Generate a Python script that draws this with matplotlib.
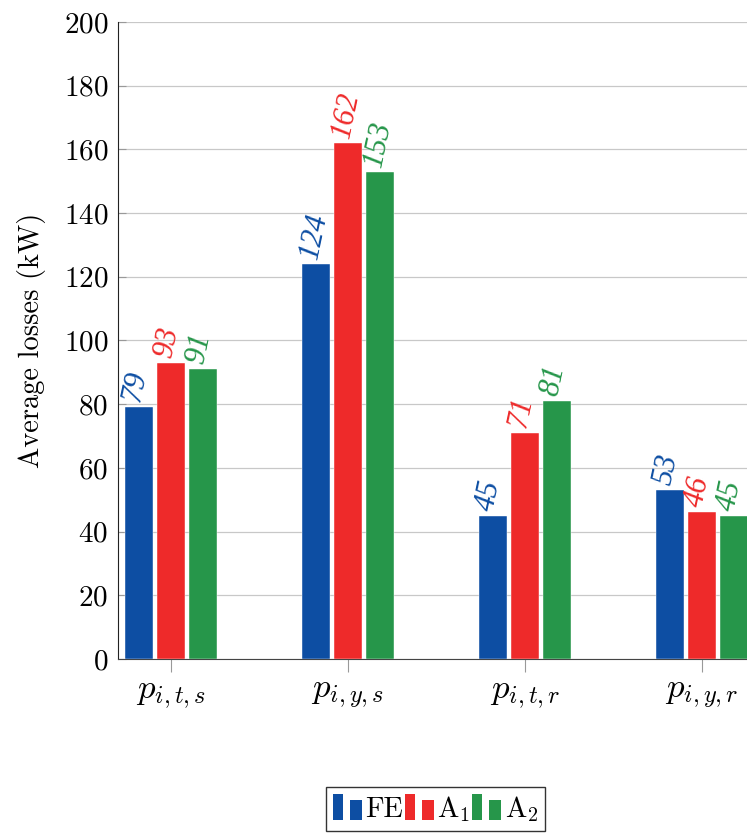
import numpy as np
import matplotlib
matplotlib.use('Agg')
import matplotlib.pyplot as plt
from matplotlib.patches import Rectangle
from matplotlib.legend_handler import HandlerBase

plt.rcParams['font.family'] = 'serif'
plt.rcParams['font.serif'] = ['cmr10']
plt.rcParams['mathtext.fontset'] = 'cm'
plt.rcParams['axes.formatter.use_mathtext'] = True

categories = [r'$p_{i,t,s}$', r'$p_{i,y,s}$', r'$p_{i,t,r}$', r'$p_{i,y,r}$']
series_names = ['FE', r'A$_1$', r'A$_2$']
fe_vals = [79, 124, 45, 53]
a1_vals = [93, 162, 71, 46]
a2_vals = [91, 153, 81, 45]
colors = ['#0d4ea3', '#ee2a2a', '#26964a']


class TwoBarHandler(HandlerBase):
    # pgfplots style ybar legend: two little bars
    def create_artists(self, legend, orig_handle, xdescent, ydescent,
                       width, height, fontsize, trans):
        c = orig_handle.get_facecolor()
        w = width * 0.33
        r1 = Rectangle((-xdescent, -ydescent - 0.15 * height), w, height * 1.3,
                       facecolor=c, edgecolor='none', transform=trans)
        r2 = Rectangle((-xdescent + width * 0.58, -ydescent - 0.15 * height), w * 1.2, height * 1.0,
                       facecolor=c, edgecolor='none', transform=trans)
        return [r1, r2]


fig = plt.figure(figsize=(7.47, 8.33), dpi=100)
ax = fig.add_axes([0.158, 0.2089, 0.8527, 0.7647])

x = np.arange(len(categories))
bw = 0.158
step = 0.181
handles = []
for i, (vals, col) in enumerate(zip([fe_vals, a1_vals, a2_vals], colors)):
    pos = x + (i - 1) * step
    b = ax.bar(pos, vals, width=bw, color=col, edgecolor='white', linewidth=0.3,
               zorder=3, label=series_names[i])
    handles.append(b.patches[0])
    for p, v in zip(pos, vals):
        ax.annotate(str(v), (p, v), xytext=(-5, 4), textcoords='offset points',
                    rotation=78, rotation_mode='anchor', ha='left', va='center',
                    color=col, fontsize=22, family='Liberation Serif',
                    style='italic', annotation_clip=False, zorder=4)

ax.set_xlim(-0.3, 3.3)
ax.set_ylim(0, 200)
ax.set_yticks(np.arange(0, 201, 20))
ax.set_xticks(x)
ax.set_xticklabels(categories, fontsize=25)
ax.tick_params(axis='y', labelsize=21, direction='in', length=6, color='#999999', pad=7)
ax.tick_params(axis='x', direction='out', length=9, color='#999999', pad=6)
ax.grid(axis='y', color='#c8c8c8', linewidth=0.9, zorder=0)
ax.set_axisbelow(True)
for s in ['top', 'right']:
    ax.spines[s].set_visible(False)
ax.spines['left'].set_color('#222222')
ax.spines['bottom'].set_color('#444444')
ax.set_ylabel('Average losses (kW)', fontsize=20.5, labelpad=13)

fig.legend(handles, series_names, handler_map={Rectangle: TwoBarHandler()},
           loc='center', bbox_to_anchor=(0.583, 0.029), ncol=3, fontsize=20.5,
           frameon=True, fancybox=False, edgecolor='#333333', framealpha=1,
           handlelength=1.05, handletextpad=0.1, columnspacing=0.05,
           borderpad=0.25)

fig.savefig('out.png', dpi=100)
